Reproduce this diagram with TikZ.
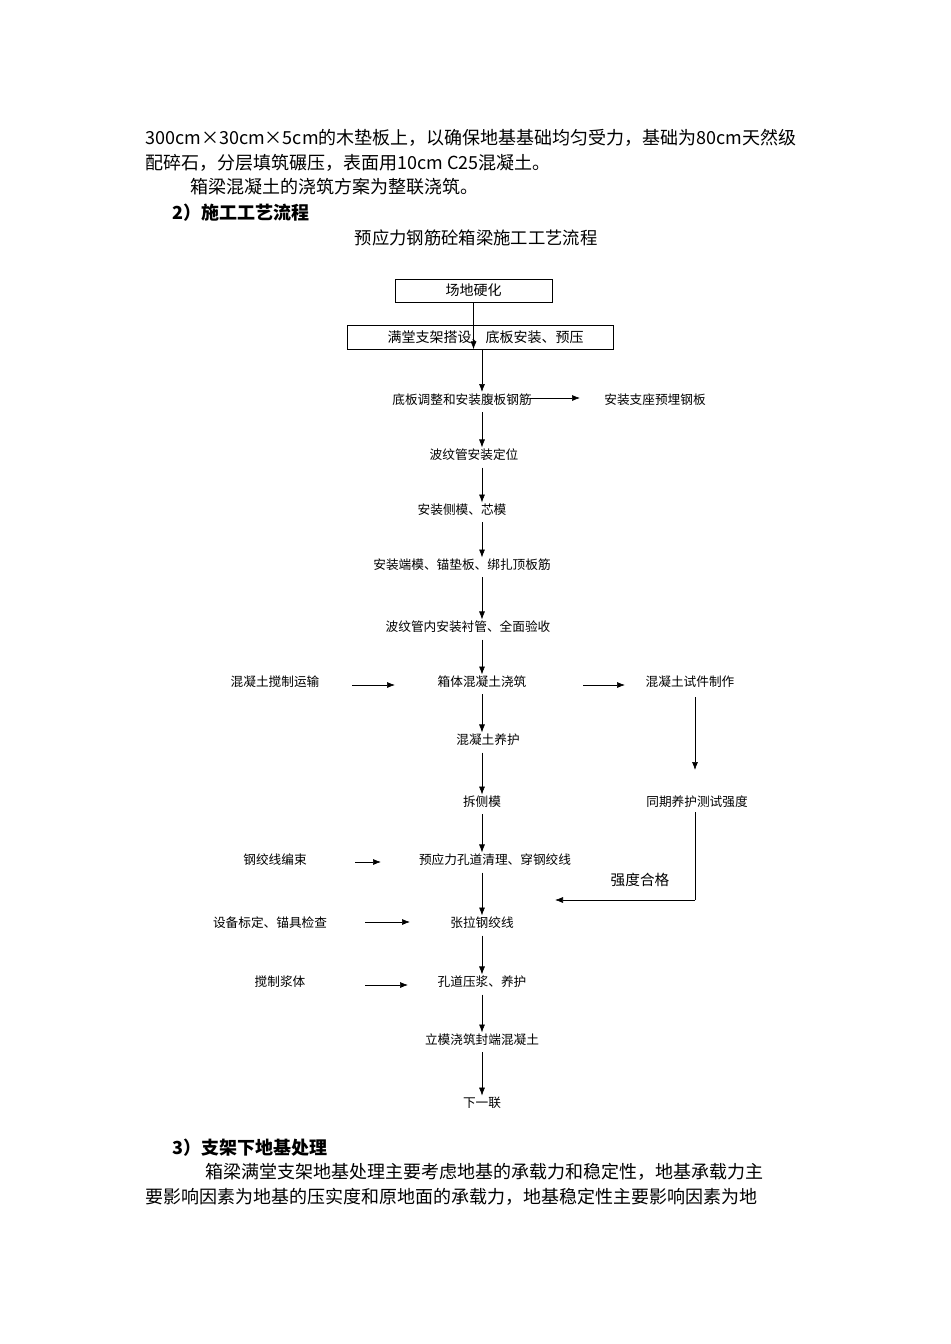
\documentclass[tikz,border=0pt]{standalone}
\usepackage{fontspec}
\setmainfont{Liberation Serif}
\newfontfamily\cjk{Noto Sans CJK SC}
\usetikzlibrary{arrows.meta}
\begin{document}
\begin{tikzpicture}[x=0.75pt,y=-0.75pt,
  body/.style={anchor=west,inner sep=0,font=\cjk\fontsize{13.5}{16}\selectfont},
  fc/.style={inner sep=1pt,font=\cjk\fontsize{9.5}{11}\selectfont},
  bx/.style={draw,line width=0.5pt,inner sep=0,font=\cjk\fontsize{10.5}{12}\selectfont},
  ar/.style={line width=0.5pt,-{Latex[length=6pt,width=4.5pt]}},
  ln/.style={line width=0.5pt}]
\useasboundingbox[fill=white] (0,0) rectangle (950,1344);
\node[body] (p1) at (145,138) {300cm×30cm×5cm的木垫板上，以确保地基基础均匀受力，基础为80cm天然级};
\node[body] (p2) at (145,163) {配碎石，分层填筑碾压，表面用10cm C25混凝土。};
\node[body] (p3) at (190,187) {箱梁混凝土的浇筑方案为整联浇筑。};
\node[body,font=\cjk\bfseries\fontsize{13.5}{16}\selectfont] (h2) at (172,213) {2）施工工艺流程};
\node[inner sep=0,font=\cjk\fontsize{13}{15}\selectfont] (tt) at (476,238) {预应力钢筋砼箱梁施工工艺流程};
\node[bx,minimum width=157*0.75pt,minimum height=23*0.75pt] (b1) at (473.5,290.5) {场地硬化};
\node[bx,minimum width=266*0.75pt,minimum height=24*0.75pt,anchor=west] (b2) at (347,337) {\hspace{8pt}满堂支架搭设、底板安装、预压};
\node[fc] (m1) at (462,400) {底板调整和安装腹板钢筋};
\node[fc] (s1) at (655,400) {安装支座预埋钢板};
\node[fc] (m2) at (474,455) {波纹管安装定位};
\node[fc] (m3) at (462,510) {安装侧模、芯模};
\node[fc] (m4) at (462,565) {安装端模、锚垫板、绑扎顶板筋};
\node[fc] (m5) at (468,627) {波纹管内安装衬管、全面验收};
\node[fc] (m6) at (482,682) {箱体混凝土浇筑};
\node[fc] (l6) at (275,682) {混凝土搅制运输};
\node[fc] (r6) at (690,682) {混凝土试件制作};
\node[fc] (m7) at (488,740) {混凝土养护};
\node[fc] (m8) at (482,802) {拆侧模};
\node[fc] (r8) at (697,802) {同期养护测试强度};
\node[fc] (m9) at (495,860) {预应力孔道清理、穿钢绞线};
\node[fc] (l9) at (275,860) {钢绞线编束};
\node[inner sep=0,font=\cjk\fontsize{11}{13}\selectfont] (qd) at (640,880) {强度合格};
\node[fc] (m10) at (482,923) {张拉钢绞线};
\node[fc] (l10) at (270,923) {设备标定、锚具检查};
\node[fc] (m11) at (482,982) {孔道压浆、养护};
\node[fc] (l11) at (280,982) {搅制浆体};
\node[fc] (m12) at (482,1040) {立模浇筑封端混凝土};
\node[fc] (m13) at (482,1103) {下一联};
\coordinate (c1) at (695,900);
\coordinate (c2) at (555,900);
\draw[ar] (b1.south) -- (b2.south-|b1.south);
\draw[ar] (482,349) -- (482,392);
\draw[ar] (530,398) -- (580,398);
\foreach \a/\b in {1/2,2/3,3/4,4/5,5/6,6/7,7/8,8/9,9/10,10/11,11/12,12/13}
  \draw[ar] (482,0|-m\a.south) ++(0,5) -- (482,0|-m\b.north) ;
\draw[ar] (352,685) -- (395,685);
\draw[ar] (583,685) -- (625,685);
\draw[ar] (355,862) -- (381,862);
\draw[ar] (365,922) -- (410,922);
\draw[ar] (365,985) -- (408,985);
\draw[ar] (695,697) -- (695,770);
\draw[ln] (695,812) -- (c1);
\draw[ar] (c1) -- (c2);
\node[body,font=\cjk\bfseries\fontsize{13.5}{16}\selectfont] (h3) at (172,1148) {3）支架下地基处理};
\node[body] (q1) at (205,1172) {箱梁满堂支架地基处理主要考虑地基的承载力和稳定性，地基承载力主};
\node[body] (q2) at (145,1197) {要影响因素为地基的压实度和原地面的承载力，地基稳定性主要影响因素为地};
\end{tikzpicture}
\end{document}
